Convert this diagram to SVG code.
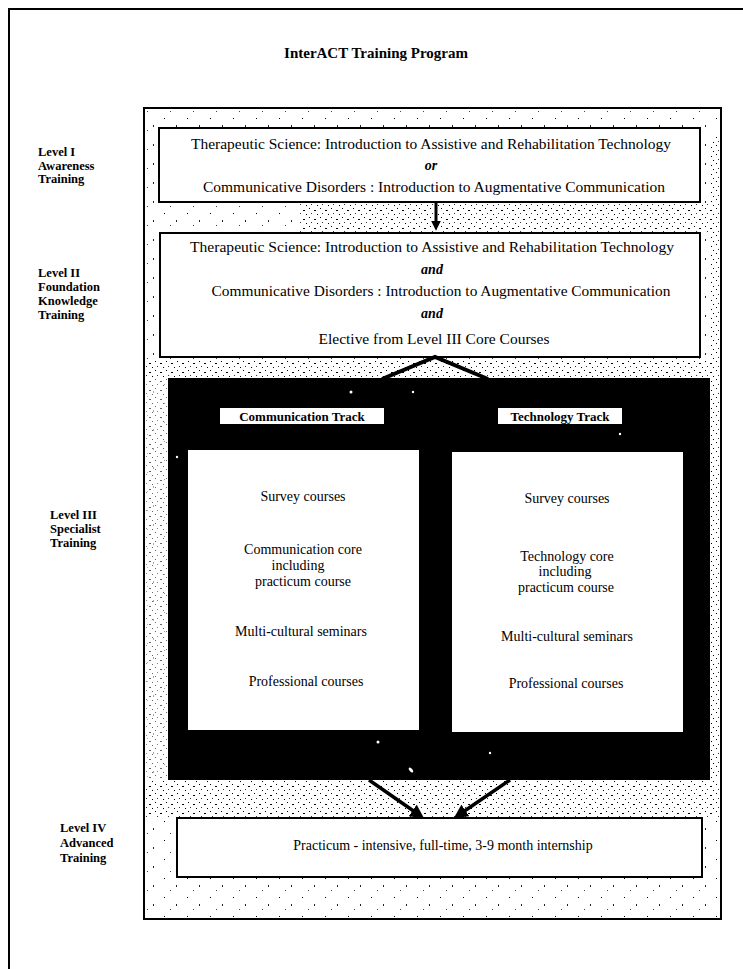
<svg xmlns="http://www.w3.org/2000/svg" width="743" height="969" viewBox="0 0 743 969">
<style>
.t{font-family:"Liberation Serif","Times New Roman",serif;font-size:14px;fill:#000;text-anchor:middle}
.it{font-style:italic;font-weight:bold}
.lbl{font-family:"Liberation Serif","Times New Roman",serif;font-size:12.5px;font-weight:bold;fill:#000}
.box{fill:#fff;stroke:#000;stroke-width:2}
.trk{font-family:"Liberation Serif","Times New Roman",serif;font-size:13px;font-weight:bold;fill:#000;text-anchor:middle}
.conn{stroke:#000;fill:none}
.spk{fill:#fff}
</style>
<defs>
<pattern id="stip" width="23" height="19" patternUnits="userSpaceOnUse">
<rect width="23" height="19" fill="#fff"/>
<rect x="3" y="4" width="1" height="1" fill="#000"/>
<rect x="15" y="11" width="1" height="2" fill="#222"/>
<rect x="9" y="16" width="1" height="1" fill="#444"/>
</pattern>
<pattern id="dense" width="11" height="9" patternUnits="userSpaceOnUse">
<rect width="11" height="9" fill="#fff"/>
<rect x="1" y="1" width="1" height="1" fill="#000"/>
<rect x="6" y="3" width="2" height="1" fill="#000"/>
<rect x="3" y="6" width="1" height="1" fill="#333"/>
<rect x="9" y="7" width="1" height="1" fill="#000"/>
</pattern>
<marker id="ah" viewBox="0 0 10 10" refX="2" refY="5" markerWidth="3.2" markerHeight="3.2" orient="auto" markerUnits="strokeWidth">
<path d="M0,0 L10,5 L0,10 z" fill="#000"/>
</marker>
<marker id="ah2" viewBox="0 0 10 10" refX="2" refY="5" markerWidth="4" markerHeight="4" orient="auto" markerUnits="strokeWidth">
<path d="M0,0 L10,5 L0,10 z" fill="#000"/>
</marker>
</defs>
<rect width="743" height="969" fill="#fff"/>
<path d="M9,969 V9 H743" fill="none" stroke="#000" stroke-width="2"/>
<g id="title"><text x="376" y="58" class="t" style="font-weight:bold;font-size:15px">InterACT Training Program</text></g>
<g id="panel">
<rect x="144" y="108" width="577" height="811" fill="url(#stip)" stroke="#000" stroke-width="2"/>
<rect x="300" y="204" width="419" height="28" fill="url(#dense)"/>
<rect x="146" y="359" width="573" height="19" fill="url(#dense)"/>
<rect x="146" y="781" width="573" height="36" fill="url(#dense)"/>
<rect x="146" y="378" width="21" height="402" fill="url(#dense)" opacity="0.6"/>
<rect x="711" y="140" width="8" height="640" fill="url(#dense)"/>
</g>
<g id="label-level1"><text class="lbl" x="38" y="156">Level I</text><text class="lbl" x="38" y="169.5">Awareness</text><text class="lbl" x="38" y="183">Training</text></g>
<g id="label-level2"><text class="lbl" x="38" y="277">Level II</text><text class="lbl" x="38" y="291">Foundation</text><text class="lbl" x="38" y="305">Knowledge</text><text class="lbl" x="38" y="319">Training</text></g>
<g id="label-level3"><text class="lbl" x="50" y="519">Level III</text><text class="lbl" x="50" y="533">Specialist</text><text class="lbl" x="50" y="547">Training</text></g>
<g id="label-level4"><text class="lbl" x="60" y="832">Level IV</text><text class="lbl" x="60" y="847">Advanced</text><text class="lbl" x="60" y="862">Training</text></g>
<g id="level1">
<rect class="box" x="159" y="128" width="541" height="74"/>
<text class="t" x="431" y="149" textLength="480" lengthAdjust="spacingAndGlyphs">Therapeutic Science: Introduction to Assistive and Rehabilitation Technology</text>
<text class="t it" x="431" y="170">or</text>
<text class="t" x="434" y="192" textLength="462" lengthAdjust="spacingAndGlyphs">Communicative Disorders : Introduction to Augmentative Communication</text>
</g>
<g id="level2">
<rect class="box" x="160" y="233" width="540" height="124"/>
<text class="t" x="432" y="252" textLength="484" lengthAdjust="spacingAndGlyphs">Therapeutic Science: Introduction to Assistive and Rehabilitation Technology</text>
<text class="t it" x="432" y="274">and</text>
<text class="t" x="441" y="296" textLength="459" lengthAdjust="spacingAndGlyphs">Communicative Disorders : Introduction to Augmentative Communication</text>
<text class="t it" x="432" y="318">and</text>
<text class="t" x="434" y="344" textLength="231" lengthAdjust="spacingAndGlyphs">Elective from Level III Core Courses</text>
</g>
<g id="level3">
<rect x="168" y="378" width="542" height="402" fill="#000"/>
<circle class="spk" cx="351" cy="392" r="1.5"/><circle class="spk" cx="413" cy="392" r="1.2"/>
<circle class="spk" cx="620" cy="434" r="1.2"/><circle class="spk" cx="177" cy="457" r="1.2"/>
<circle class="spk" cx="378" cy="742" r="1.5"/><circle class="spk" cx="490" cy="753" r="1.2"/>
<ellipse class="spk" cx="411" cy="770" rx="1.5" ry="3" transform="rotate(-40 411 770)"/>
</g>
<g id="comm-track">
<rect x="220" y="408" width="164" height="16" fill="#fff"/>
<text class="trk" x="302" y="421">Communication Track</text>
</g>
<g id="tech-track">
<rect x="498" y="408" width="124" height="16" fill="#fff"/>
<text class="trk" x="560" y="421">Technology Track</text>
</g>
<g id="comm-column">
<rect x="188" y="450" width="231" height="280" fill="#fff"/>
<text class="t" x="303" y="501">Survey courses</text>
<text class="t" x="303" y="554">Communication core</text>
<text class="t" x="298" y="570">including</text>
<text class="t" x="303" y="586">practicum course</text>
<text class="t" x="301" y="636">Multi-cultural seminars</text>
<text class="t" x="306" y="686">Professional courses</text>
</g>
<g id="tech-column">
<rect x="452" y="452" width="231" height="280" fill="#fff"/>
<text class="t" x="567" y="503">Survey courses</text>
<text class="t" x="567" y="561">Technology core</text>
<text class="t" x="565" y="576">including</text>
<text class="t" x="566" y="592">practicum course</text>
<text class="t" x="567" y="641">Multi-cultural seminars</text>
<text class="t" x="566" y="688">Professional courses</text>
</g>
<g id="level4">
<rect class="box" x="177" y="818" width="525" height="59"/>
<text class="t" x="443" y="850">Practicum - intensive, full-time, 3-9 month internship</text>
</g>
<g id="connectors">
<line class="conn" x1="436" y1="202" x2="436" y2="223" stroke-width="3" marker-end="url(#ah)"/>
<polyline class="conn" points="382,379 435,357 488,379" stroke-width="4"/>
<line class="conn" x1="369" y1="780" x2="415" y2="812" stroke-width="3.5" marker-end="url(#ah2)"/>
<line class="conn" x1="510" y1="780" x2="463" y2="812" stroke-width="3.5" marker-end="url(#ah2)"/>
</g>
</svg>
